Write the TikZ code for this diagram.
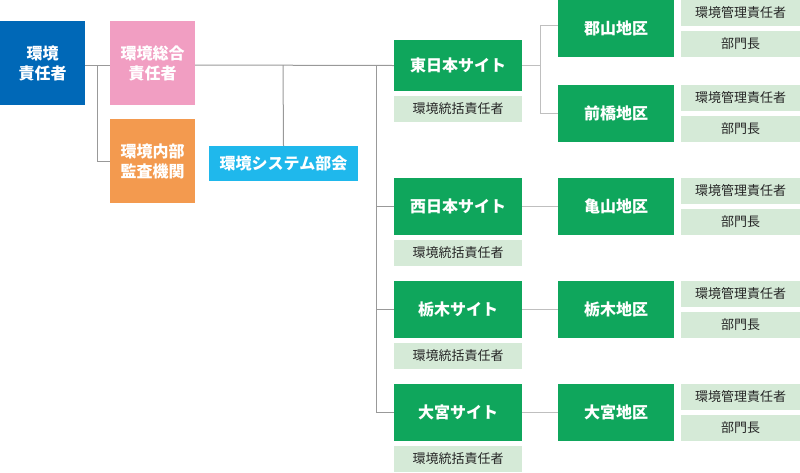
\documentclass[tikz,border=0pt]{standalone}
\usepackage{fontspec}
\setmainfont{Noto Sans CJK JP}
\definecolor{envblue}{HTML}{0068B7}
\definecolor{envpink}{HTML}{F19EC2}
\definecolor{envorange}{HTML}{F39A4F}
\definecolor{envcyan}{HTML}{1FB8EC}
\definecolor{envgreen}{HTML}{0FA65C}
\definecolor{envpale}{HTML}{D5EAD7}
\begin{document}
\begin{tikzpicture}[x=1pt,y=-1pt]
\tikzstyle{every node}+=[inner sep=0pt]
\tikzstyle{mainbox}=[rectangle,minimum width=85pt,minimum height=84pt,text=white,align=center,font=\fontsize{16}{20}\selectfont\bfseries]
\tikzstyle{sitebox}=[rectangle,fill=envgreen,minimum width=128pt,text=white,font=\fontsize{16}{20}\selectfont\bfseries]
\tikzstyle{areabox}=[rectangle,fill=envgreen,minimum width=116pt,minimum height=57pt,text=white,font=\fontsize{16}{20}\selectfont\bfseries]
\tikzstyle{rolebox}=[rectangle,fill=envpale,minimum height=26pt,text=black!85,font=\fontsize{13}{15}\selectfont]
\tikzstyle{trunk}=[draw=black!40,line width=1pt]
\tikzstyle{branch}=[draw=black!25,line width=1pt]
\useasboundingbox (0,0) rectangle (800,472);
% left side
\node[mainbox,fill=envblue] (resp) at (42.5,63) {環境\\責任者};
\node[mainbox,fill=envpink] (sogo) at (152.5,63) {環境総合\\責任者};
\node[mainbox,fill=envorange] (kansa) at (152.5,161) {環境内部\\監査機関};
\node[rectangle,fill=envcyan,minimum width=149pt,minimum height=35pt,text=white,font=\fontsize{16}{20}\selectfont\bfseries] (bukai) at (283.5,163.5) {環境システム部会};
% sites
\node[sitebox,minimum height=51pt] (east) at (458,65.5) {東日本サイト};
\node[rolebox,minimum width=128pt] (eastr) at (458,109) {環境統括責任者};
\node[sitebox,minimum height=57pt] (west) at (458,206.5) {西日本サイト};
\node[rolebox,minimum width=128pt] (westr) at (458,253) {環境統括責任者};
\node[sitebox,minimum height=57pt] (tochi) at (458,309.5) {栃木サイト};
\node[rolebox,minimum width=128pt] (tochir) at (458,356) {環境統括責任者};
\node[sitebox,minimum height=57pt] (omiya) at (458,412.5) {大宮サイト};
\node[rolebox,minimum width=128pt] (omiyar) at (458,459) {環境統括責任者};
% areas
\node[areabox] (koriyama) at (616,28.5) {郡山地区};
\node[areabox] (maebashi) at (616,113.5) {前橋地区};
\node[areabox] (kameyama) at (616,206.5) {亀山地区};
\node[areabox] (tochiA) at (616,309.5) {栃木地区};
\node[areabox] (omiyaA) at (616,412.5) {大宮地区};
% roles
\foreach \n/\y in {koriyama/13,maebashi/98,kameyama/191,tochiA/294,omiyaA/397}{
  \node[rolebox,minimum width=119pt] (\n m) at (740.5,\y) {環境管理責任者};
  \node[rolebox,minimum width=119pt] (\n b) at (740.5,\y+31) {部門長};
}
% connectors
\coordinate (j1) at (97,65);
\coordinate (j2) at (283,65);
\coordinate (j3) at (376,65);
\coordinate (j4) at (540,65.5);
\draw[trunk] (resp.east |- j1) -- (sogo.west |- j1);
\draw[trunk] (j1) |- (kansa.west);
\draw[trunk] (sogo.east |- j1) -- (east.west);
\draw[trunk] (j2) -- (bukai.north);
\draw[trunk] (j3) |- (west.west);
\draw[trunk] (j3) |- (tochi.west);
\draw[trunk] (j3) |- (omiya.west);
\draw[branch] (east.east) -- (j4);
\draw[branch] (j4) |- ([yshift=3pt]koriyama.west);
\draw[branch] (j4) |- (maebashi.west);
\draw[branch] (west.east) -- (kameyama.west);
\draw[branch] (tochi.east) -- (tochiA.west);
\draw[branch] (omiya.east) -- (omiyaA.west);
\end{tikzpicture}
\end{document}
